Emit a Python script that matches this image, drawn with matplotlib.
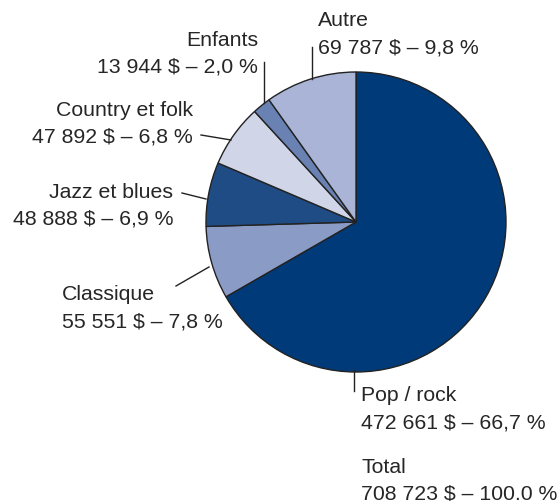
import matplotlib.pyplot as plt

plt.rcParams['font.family'] = ['Liberation Sans', 'DejaVu Sans']

categories = ["Pop / rock", "Classique", "Jazz et blues", "Country et folk", "Enfants", "Autre"]
montants = [472661, 55551, 48888, 47892, 13944, 69787]
pourcentages = ["66,7", "7,8", "6,9", "6,8", "2,0", "9,8"]
couleurs = ["#003a78", "#8a9bc6", "#1f4c85", "#d0d5e7", "#6a81b3", "#a9b4d6"]
total = 708723


def fmt(v):
    return f"{v:,}".replace(",", " ")


W, H = 557, 502
fig = plt.figure(figsize=(W / 100, H / 100), dpi=100)
ax = fig.add_axes([0, 0, 1, 1])

# pie, clockwise from the top
ax.pie(montants, colors=couleurs, startangle=90, counterclock=False,
       center=(356, H - 223), radius=150,
       wedgeprops=dict(edgecolor="#222222", linewidth=1.0))

# pie() resets the limits, so set the pixel frame afterwards
ax.set_xlim(0, W)
ax.set_ylim(0, H)
ax.set_aspect("equal")
ax.axis("off")

txt = "#262626"
fs = 15.3

# label placement: (x, y of first line, alignment, leader line points)
places = {
    "Pop / rock": (361, 396, "left", [(354, 371), (354, 392)]),
    "Classique": (62, 295, "left", [(176, 287), (209, 268)]),
    "Jazz et blues": (173, 192, "right", [(182, 194), (206, 200)]),
    "Country et folk": (193, 110, "right", [(201, 136), (231, 141)]),
    "Enfants": (258, 40, "right", [(264, 63), (264, 104)]),
    "Autre": (318, 21, "left", [(312, 48), (312, 80)]),
}

for cat, val, pct in zip(categories, montants, pourcentages):
    x, y, ha, line = places[cat]
    ax.text(x, H - y, cat, ha=ha, va="center", fontsize=fs, color=txt)
    ax.text(x, H - y - 27, f"{fmt(val)} $ – {pct} %", ha=ha, va="center",
            fontsize=fs, color=txt)
    ax.plot([p[0] for p in line], [H - p[1] for p in line], color="#222222", lw=1)

ax.text(361, H - 468, "Total", ha="left", va="center", fontsize=fs, color=txt)
ax.text(361, H - 494, f"{fmt(total)} $ – 100.0 %", ha="left", va="center",
        fontsize=fs, color=txt)

fig.savefig("out.png", dpi=100)
